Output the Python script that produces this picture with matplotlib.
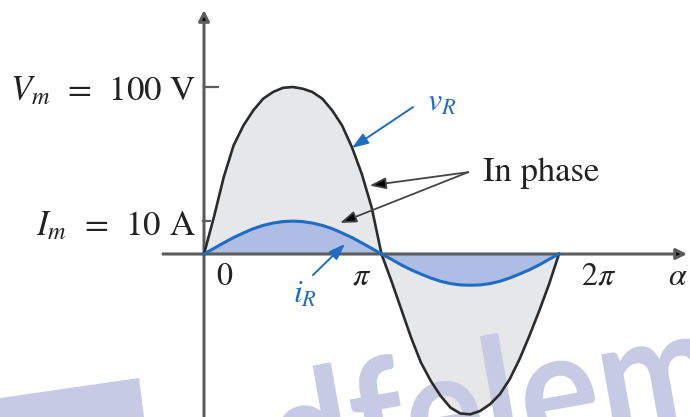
import numpy as np
import matplotlib
matplotlib.use("Agg")
import matplotlib.pyplot as plt
from matplotlib.patches import Polygon, PathPatch
from matplotlib.textpath import TextPath
from matplotlib.font_manager import FontProperties
from matplotlib.transforms import Affine2D

plt.rcParams["font.family"] = ["STIXGeneral", "DejaVu Serif"]
plt.rcParams["mathtext.fontset"] = "stix"

# angle samples (degrees) and the values
ALPHA_DEG = list(range(0, 361, 10))
V_R = [0, 22, 46, 65, 77, 86, 93, 97, 99.5, 100, 99, 97, 93, 86, 77, 64, 48, 28, 0,
       -16, -33, -50, -65, -76, -85, -92, -95.5, -96, -94, -90, -84, -75, -63, -49, -34, -18, 0]
I_R = [0, 1.7, 3.4, 5.0, 6.4, 7.7, 8.7, 9.4, 9.85, 10, 9.85, 9.4, 8.7, 7.7, 6.4, 5.0, 3.4, 1.7, 0,
       -1.6, -3.3, -4.8, -6.1, -7.3, -8.3, -9.0, -9.4, -9.5, -9.4, -9.0, -8.3, -7.3, -6.1, -4.8, -3.3, -1.6, 0]

V_M = 100   # V
I_M = 10    # A
TICK_LABELS = ["0", r"$\pi$", r"$2\pi$"]
TICK_POS = [21, 160, 400]

I_DRAW = 1.97  # drawing units per ampere (current is drawn on its own scale)

BLACK = "#2b2b2b"
AXIS = "#5c5c5c"
BLUE = "#1f6cc4"
GRAY_FILL = "#e6e7e9"
BLUE_FILL = "#aebde4"
WATERMARK = "#c6cae4"

W, H = 690, 417


def px(x, y):
    # pixel position (from top-left) -> axes fraction
    return x / W, 1 - y / H


fig = plt.figure(figsize=(6.9, 4.17), dpi=100)
ax = fig.add_axes([0, 0, 1, 1])
ax.set_xlim(-206.9, 492.9)
ax.set_ylim(-97.6, 152.1)
ax.axis("off")

alpha = np.array(ALPHA_DEG)
v = np.array(V_R)
i_draw = np.array(I_R) * I_DRAW

ax.fill_between(alpha, v, 0, color=GRAY_FILL, lw=0, zorder=1)
ax.fill_between(alpha, i_draw, 0, color=BLUE_FILL, lw=0, zorder=2)

# watermark: logo block + squeezed, tilted lettering (drawn in pixel space)
logo = Polygon([px(0, 398), px(139, 378), px(147, 440), px(0, 440)],
               closed=True, transform=ax.transAxes, color=WATERMARK, lw=0, zorder=3)
ax.add_patch(logo)
fp = FontProperties(family="Lato", weight="bold")
word = TextPath((0, 0), "pdfelement", size=170, prop=fp)
head = TextPath((0, 0), "pdfele", size=170, prop=fp).get_extents()
sx = 405 / head.width
tr = Affine2D().translate(-head.x0, 0).scale(sx, 1).rotate_deg(10).translate(204, H - 513)
ax.add_patch(PathPatch(word, transform=tr, color=WATERMARK, lw=0, zorder=3))

ax.plot(alpha, v, color=BLACK, lw=1.9, zorder=5)
ax.plot(alpha, i_draw, color=BLUE, lw=2.2, zorder=6)

# axes with arrows
ax.annotate("", xy=(489.9, 0), xytext=(-41.6, 0),
            arrowprops=dict(arrowstyle="-|>", color=AXIS, fc="black", lw=2.2,
                            mutation_scale=16, shrinkA=0, shrinkB=0), zorder=4)
ax.annotate("", xy=(0, 146.1), xytext=(0, -110),
            arrowprops=dict(arrowstyle="-|>", color=AXIS, fc="black", lw=2.2,
                            mutation_scale=16, shrinkA=0, shrinkB=0), zorder=4)

# amplitude ticks
ax.plot([0, 14], [V_M, V_M], color=AXIS, lw=1.6, zorder=4)
ax.plot([-1, 6], [I_M * I_DRAW, I_M * I_DRAW], color=AXIS, lw=1.6, zorder=4)

ax.text(-8, 92, r"$V_m$  =  100 V", ha="right", va="baseline", fontsize=25, color="#222")
ax.text(-9, 11.4, r"$I_m$  =  10 A", ha="right", va="baseline", fontsize=25, color="#222")

for pos, lab in zip(TICK_POS, TICK_LABELS):
    ax.text(pos, -5, lab, ha="center", va="top", fontsize=23, color="#222")
ax.text(470.6, -5.4, r"$\alpha$", ha="left", va="top", fontsize=23, color="#222")

# curve labels and pointers
ax.text(226, 86, r"$v_R$", ha="left", va="baseline", fontsize=23, color=BLUE)
ax.annotate("", xy=(150, 63.5), xytext=(212, 88),
            arrowprops=dict(arrowstyle="-|>,head_length=0.7,head_width=0.25",
                            color=BLUE, lw=1.4, mutation_scale=14,
                            shrinkA=0, shrinkB=0), zorder=7)
ax.text(90, -29, r"$i_R$", ha="left", va="baseline", fontsize=23, color=BLUE)
ax.annotate("", xy=(143, 6), xytext=(110.5, -12.6),
            arrowprops=dict(arrowstyle="-|>,head_length=0.7,head_width=0.25",
                            color=BLUE, lw=1.4, mutation_scale=14,
                            shrinkA=0, shrinkB=0), zorder=7)

ax.text(283, 44, "In phase", ha="left", va="baseline", fontsize=25, color="#222")
for tip in [(168, 41), (138, 18.6)]:
    ax.annotate("", xy=tip, xytext=(268, 49),
                arrowprops=dict(arrowstyle="-|>,head_length=0.7,head_width=0.25",
                                color="#444", fc="black", lw=1.3, mutation_scale=14,
                                shrinkA=0, shrinkB=0), zorder=7)

fig.savefig("out.png", dpi=100)
